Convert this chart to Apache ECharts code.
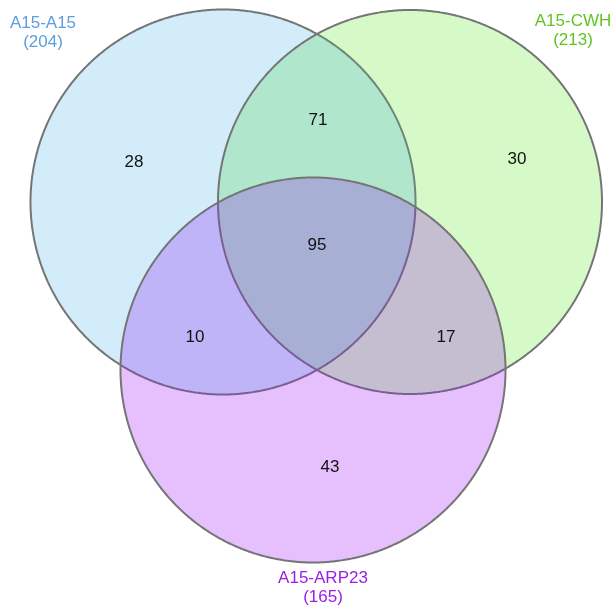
<!DOCTYPE html>
<html><head><meta charset="utf-8">
<script src="https://cdn.jsdelivr.net/npm/echarts@6/dist/echarts.min.js"></script>
<style>html,body{margin:0;padding:0;background:#fff}#c{width:614px;height:607px}</style>
</head><body><div id="c"></div>
<script>
// ---- data ----
const setNames = ['A15-A15', 'A15-CWH', 'A15-ARP23'];
const setTotals = [204, 213, 165];
const regionKeys = ['A', 'B', 'C', 'AB', 'AC', 'BC', 'ABC'];
const regionCounts = [28, 30, 43, 71, 10, 17, 95];

// ---- layout (chart-space units = pixels of the hidden axes) ----
const circleCenters = [[223, 202], [410, 202], [313, 370]];
const circleRadii = [192.5, 192, 192.5];
const regionLabelPos = [[134, 162], [517, 159], [330, 467], [318, 120], [195, 337], [446, 337], [317, 245]];
const setLabelPos = [[43, 33], [573, 30.5], [323, 587.5]];
const setLabelColors = ['#5b9fe0', '#5ec524', '#9b1ee6'];
const regionColors = ['#d2ecfa', '#d6f9c8', '#e6c0fc', '#b0e7cc', '#c0b4f8', '#c5bdd0', '#a7b0d4'];

const TAU = Math.PI * 2;
function inside(p, k) {
  const c = circleCenters[k];
  return Math.hypot(p[0] - c[0], p[1] - c[1]) < circleRadii[k] - 1e-6;
}
function inter(i, j) {
  const [x0, y0] = circleCenters[i], [x1, y1] = circleCenters[j];
  const r0 = circleRadii[i], r1 = circleRadii[j];
  const d = Math.hypot(x1 - x0, y1 - y0);
  const a = (r0 * r0 - r1 * r1 + d * d) / (2 * d);
  const h = Math.sqrt(Math.max(0, r0 * r0 - a * a));
  const xm = x0 + a * (x1 - x0) / d, ym = y0 + a * (y1 - y0) / d;
  return [[xm + h * (y1 - y0) / d, ym - h * (x1 - x0) / d], [xm - h * (y1 - y0) / d, ym + h * (x1 - x0) / d]];
}
function onCircle(k, ang) {
  const c = circleCenters[k], r = circleRadii[k];
  return [c[0] + r * Math.cos(ang), c[1] + r * Math.sin(ang)];
}
function arc(k, P, Q, test) {
  const c = circleCenters[k];
  const a0 = Math.atan2(P[1] - c[1], P[0] - c[0]);
  const a1 = Math.atan2(Q[1] - c[1], Q[0] - c[0]);
  let d = a1 - a0;
  while (d < 0) d += TAU;
  if (!test(onCircle(k, a0 + d / 2))) d -= TAU;
  const n = 160, pts = [];
  for (let s = 0; s <= n; s++) pts.push(onCircle(k, a0 + d * s / n));
  return pts;
}
function regionPoints(key) {
  const idx = key.split('').map(ch => 'ABC'.indexOf(ch));
  if (idx.length === 1) {
    const pts = [];
    for (let s = 0; s < 360; s++) pts.push(onCircle(idx[0], s / 360 * TAU));
    return pts;
  }
  if (idx.length === 2) {
    const [i, j] = idx;
    const [X, Y] = inter(i, j);
    return arc(i, X, Y, p => inside(p, j)).concat(arc(j, Y, X, p => inside(p, i)));
  }
  const pick = (i, j, k) => inter(i, j).find(p => inside(p, k)) || inter(i, j)[0];
  const P12 = pick(0, 1, 2), P13 = pick(0, 2, 1), P23 = pick(1, 2, 0);
  return arc(0, P12, P13, p => inside(p, 1) && inside(p, 2))
    .concat(arc(2, P13, P23, p => inside(p, 0) && inside(p, 1)))
    .concat(arc(1, P23, P12, p => inside(p, 0) && inside(p, 2)));
}
function strokeColor(k, p) {
  if (k < 2 && inside(p, 2)) return '#7a5f92';
  if (k === 0 && inside(p, 1)) return '#6f857c';
  return '#757575';
}

const chart = echarts.init(document.getElementById('c'), null, { renderer: 'canvas' });
const FONT = '"Liberation Sans", Arial, sans-serif';

chart.setOption({
  animation: false,
  backgroundColor: '#ffffff',
  grid: { left: 0, right: 0, top: 0, bottom: 0 },
  xAxis: { type: 'value', min: 0, max: 614, show: false },
  yAxis: { type: 'value', min: 0, max: 607, inverse: true, show: false },
  series: [
    {
      type: 'custom',
      coordinateSystem: 'cartesian2d',
      silent: true,
      data: regionLabelPos.map((p, i) => [p[0], p[1], i]),
      renderItem: function (params, api) {
        const i = params.dataIndex;
        const pts = regionPoints(regionKeys[i]).map(p => api.coord(p));
        return { type: 'polygon', shape: { points: pts }, style: { fill: regionColors[i], stroke: regionColors[i], lineWidth: 0.5 } };
      }
    },
    {
      type: 'custom',
      coordinateSystem: 'cartesian2d',
      silent: true,
      data: circleCenters.map((c, k) => [c[0], c[1], k]),
      renderItem: function (params, api) {
        const k = params.dataIndex;
        const children = [];
        let run = [], col = null;
        const N = 720;
        for (let s = 0; s <= N; s++) {
          const p = onCircle(k, s / N * TAU);
          const c = strokeColor(k, p);
          if (col !== null && c !== col) {
            run.push(api.coord(p));
            children.push({ type: 'polyline', shape: { points: run }, style: { stroke: col, lineWidth: 2, fill: null } });
            run = [];
          }
          col = c;
          run.push(api.coord(p));
        }
        children.push({ type: 'polyline', shape: { points: run }, style: { stroke: col, lineWidth: 2, fill: null } });
        return { type: 'group', children: children };
      }
    },
    {
      type: 'custom',
      coordinateSystem: 'cartesian2d',
      silent: true,
      data: regionLabelPos.map((p, i) => [p[0], p[1], regionCounts[i]]),
      renderItem: function (params, api) {
        const pt = api.coord([api.value(0), api.value(1)]);
        return { type: 'text', x: pt[0], y: pt[1], style: { text: String(regionCounts[params.dataIndex]), fill: '#111111', font: '17px ' + FONT, align: 'center', verticalAlign: 'middle' } };
      }
    },
    {
      type: 'custom',
      coordinateSystem: 'cartesian2d',
      silent: true,
      data: setLabelPos.map((p, i) => [p[0], p[1], setTotals[i]]),
      renderItem: function (params, api) {
        const i = params.dataIndex;
        const pt = api.coord([api.value(0), api.value(1)]);
        return { type: 'text', x: pt[0], y: pt[1], style: { text: setNames[i] + '\n(' + setTotals[i] + ')', fill: setLabelColors[i], font: '17px ' + FONT, lineHeight: 19, align: 'center', verticalAlign: 'middle' } };
      }
    }
  ]
});
</script>
</body></html>
